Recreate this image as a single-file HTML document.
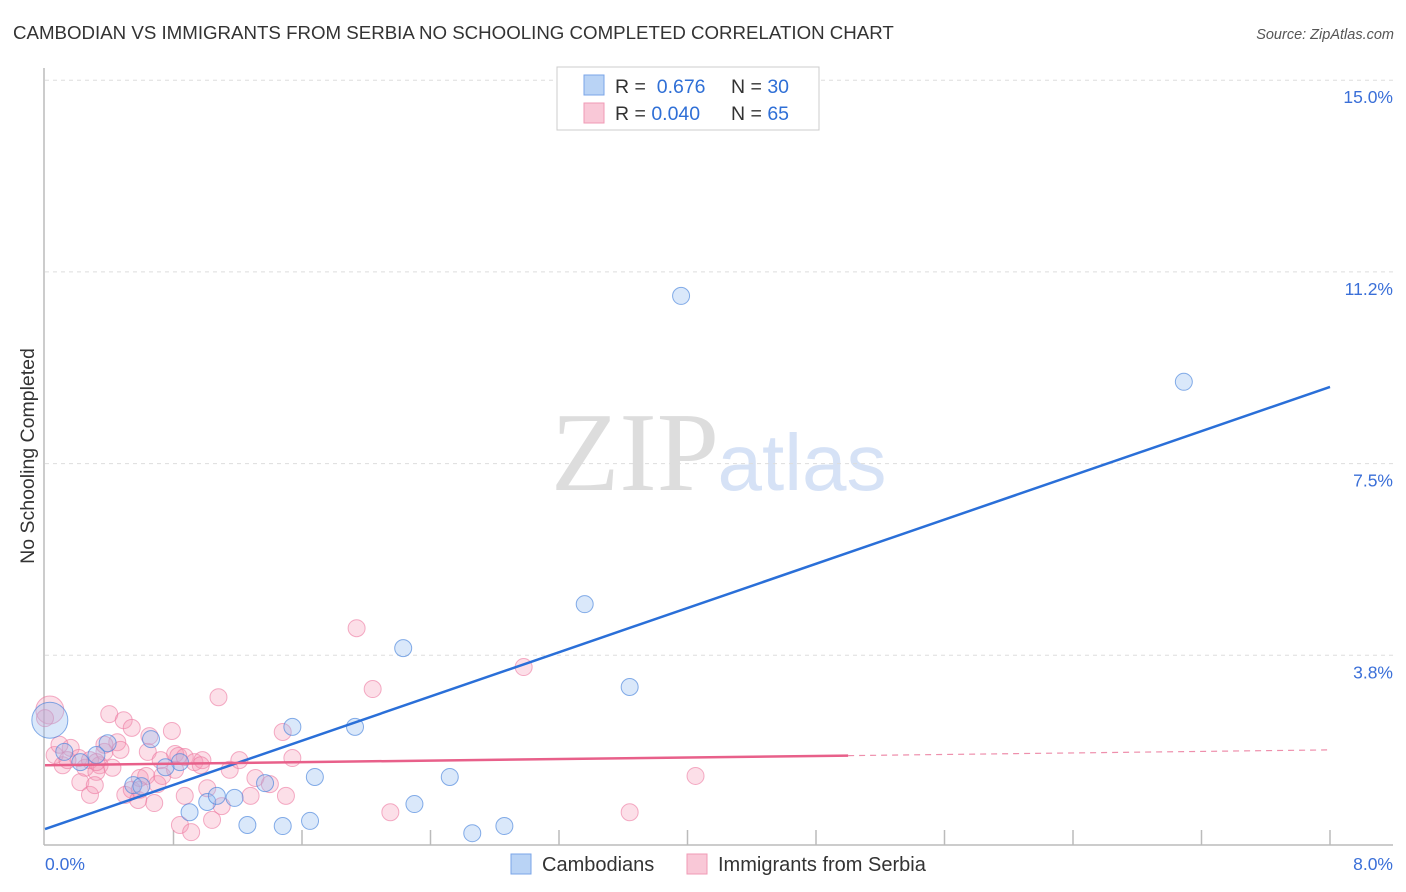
<!DOCTYPE html>
<html><head><meta charset="utf-8"><style>
body{margin:0;background:#fff;font-family:"Liberation Sans",sans-serif;}
svg{display:block}
</style></head><body>
<svg id="chart" width="1406" height="892" xmlns="http://www.w3.org/2000/svg">
<text x="13" y="39" font-size="18.7" fill="#333">CAMBODIAN VS IMMIGRANTS FROM SERBIA NO SCHOOLING COMPLETED CORRELATION CHART</text>
<text x="1394" y="39" font-size="14.5" fill="#555" font-style="italic" text-anchor="end">Source: ZipAtlas.com</text>
<text transform="translate(34,456) rotate(-90)" font-size="19.5" fill="#333" text-anchor="middle">No Schooling Completed</text>
<g>
<text x="635" y="490" font-family="Liberation Serif,serif" font-size="112" fill="#ddd" text-anchor="middle">ZIP</text>
<text x="802" y="490" font-size="80" fill="#d6e2f6" text-anchor="middle">atlas</text>
</g>
<g id="grid"></g>
<g id="axes"></g>
<g id="points"></g>
<g id="lines"></g>
<g>
<rect x="557" y="67" width="262" height="63" fill="#fff" stroke="#ccc"/>
<rect x="584" y="75" width="20" height="20" fill="#b9d3f5" stroke="#7aa5e8"/>
<rect x="584" y="103" width="20" height="20" fill="#f9c8d7" stroke="#f09ab5"/>
<text x="615" y="93" font-size="19.5" fill="#333">R = <tspan fill="#2f6fd6">&#160;0.676</tspan><tspan x="731">N = </tspan><tspan fill="#2f6fd6">30</tspan></text>
<text x="615" y="120" font-size="19.5" fill="#333">R = <tspan fill="#2f6fd6">0.040</tspan><tspan x="731">N = </tspan><tspan fill="#2f6fd6">65</tspan></text>
</g>
<g>
<rect x="511" y="854" width="20" height="20" fill="#b9d3f5" stroke="#7aa5e8"/>
<text x="542" y="871" font-size="20" fill="#333">Cambodians</text>
<rect x="687" y="854" width="20" height="20" fill="#f9c8d7" stroke="#f09ab5"/>
<text x="718" y="871" font-size="20" fill="#333">Immigrants from Serbia</text>
</g>
</svg>
<script>
const xTicks=[0,0.8,1.6,2.4,3.2,4.0,4.8,5.6,6.4,7.2,8.0];
const yTicks=[3.75,7.5,11.25,15];
const yTickLabels=["3.8%","7.5%","11.2%","15.0%"];
const xEndLabels=["0.0%","8.0%"];
const blueX=[3.96,7.09,3.36,2.23,3.64,1.54,1.93,0.03,0.39,0.66,0.84,0.75,0.32,0.12,0.55,0.60,0.90,1.01,1.07,1.18,1.26,1.48,1.65,1.68,1.37,2.30,2.52,2.66,2.86,0.22];
const blueY=[10.78,9.10,4.75,3.89,3.13,2.35,2.35,2.48,2.03,2.11,1.66,1.56,1.80,1.86,1.21,1.19,0.68,0.88,1.00,0.96,0.43,0.41,0.51,1.37,1.25,0.84,1.37,0.27,0.41,1.66];
const pinkX=[1.94,2.98,2.04,1.08,4.05,3.64,2.15,0.40,0.49,0.54,0.64,0.79,0.65,1.48,1.54,0.03,0.06,0.11,0.16,0.21,0.25,0.28,0.34,0.37,0.32,0.42,0.22,0.28,0.31,0.50,0.54,0.59,0.63,0.70,0.73,0.81,0.83,0.87,0.93,0.98,0.68,0.87,1.01,1.04,1.10,0.84,0.91,1.31,1.28,1.40,1.50,0.09,0.00,0.45,0.32,0.58,0.47,0.72,0.81,0.97,1.15,0.37,0.14,1.21,0.59];
const pinkY=[4.28,3.52,3.09,2.93,1.39,0.68,0.68,2.60,2.48,2.33,1.86,2.27,2.17,2.25,1.74,2.68,1.80,1.60,1.94,1.74,1.55,1.70,1.60,1.86,1.47,1.55,1.27,1.02,1.21,1.02,1.12,1.35,1.39,1.23,1.39,1.82,1.78,1.76,1.66,1.70,0.86,1.00,1.15,0.53,0.80,0.43,0.29,1.35,1.00,1.23,1.00,2.00,2.52,2.05,1.66,0.92,1.90,1.70,1.51,1.60,1.51,2.00,1.70,1.70,1.12];
const blueBigIndex=7, pinkBigIndex=15;
const blueTrend=[0.35,9.0];
const pinkTrend=[1.60,1.90];
const pinkSolidEnd=5.0;

const NS="http://www.w3.org/2000/svg";
const X0=45,X1=1330,Y0=847,PX=51.12;
const sx=v=>X0+(X1-X0)*v/8;
const sy=v=>Y0-v*PX;
function mk(tag,attrs,parent){const e=document.createElementNS(NS,tag);for(const k in attrs)e.setAttribute(k,attrs[k]);parent.appendChild(e);return e;}
const grid=document.getElementById('grid'),axes=document.getElementById('axes'),pts=document.getElementById('points'),lines=document.getElementById('lines');
yTicks.forEach((t,i)=>{
 const l=mk('line',{x1:45,x2:1393,y1:sy(t),y2:sy(t),stroke:'#ddd','stroke-dasharray':'4,4'},grid);
 
 
 const tx=mk('text',{x:1393,y:sy(t)+23,'font-size':17.5,fill:'#3a6fd8','text-anchor':'end'},grid);
 tx.textContent=yTickLabels[i];
 
 
});
let a=mk('line',{x1:44,x2:44,y1:68,y2:845,stroke:'#bbb','stroke-width':1.5},axes);


a=mk('line',{x1:44,x2:1393,y1:845,y2:845,stroke:'#bbb','stroke-width':1.5},axes);


xTicks.slice(1).forEach(t=>{
 const l=mk('line',{x1:sx(t),x2:sx(t),y1:830,y2:845,stroke:'#bbb','stroke-width':1.5},axes);
 
 
});
[[0,'start',45],[8,'end',1393]].forEach((d,i)=>{
 const tx=mk('text',{x:d[2],y:870,'font-size':17.5,fill:'#3a6fd8','text-anchor':d[1]},axes);
 tx.textContent=xEndLabels[i];
 
 
});
pinkX.forEach((x,i)=>{
 const c=mk('circle',{cx:sx(x),cy:sy(pinkY[i]),r:i===pinkBigIndex?14:8.5,fill:'rgba(244,150,180,0.3)',stroke:'rgba(236,120,160,0.6)','stroke-width':1},pts);
 
 
});
blueX.forEach((x,i)=>{
 const c=mk('circle',{cx:sx(x),cy:sy(blueY[i]),r:i===blueBigIndex?18:8.5,fill:'rgba(150,190,240,0.35)',stroke:'rgba(70,130,220,0.65)','stroke-width':1},pts);
 
 
});
let ln=mk('line',{x1:sx(0),y1:sy(blueTrend[0]),x2:sx(8),y2:sy(blueTrend[1]),stroke:'#2a6fd8','stroke-width':2.5},lines);


const pAt=v=>pinkTrend[0]+(pinkTrend[1]-pinkTrend[0])*v/8;
ln=mk('line',{x1:sx(0),y1:sy(pAt(0)),x2:sx(pinkSolidEnd),y2:sy(pAt(pinkSolidEnd)),stroke:'#e8608a','stroke-width':2.5},lines);


ln=mk('line',{x1:sx(pinkSolidEnd),y1:sy(pAt(pinkSolidEnd)),x2:sx(8),y2:sy(pAt(8)),stroke:'#e8608a','stroke-width':1.2,'stroke-dasharray':'6,5',opacity:0.7},lines);


</script>
</body></html>
